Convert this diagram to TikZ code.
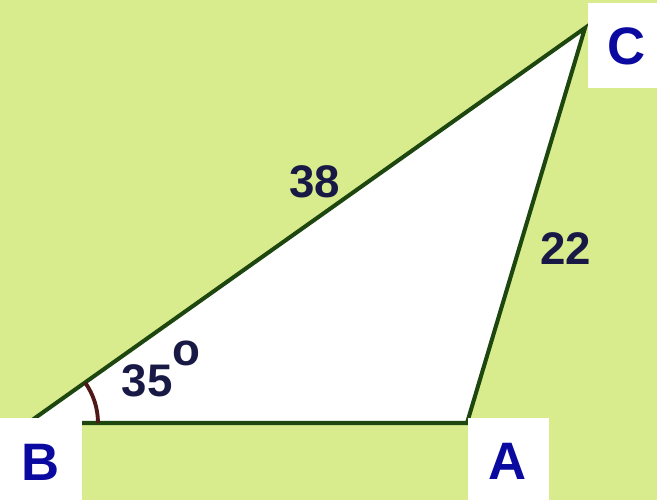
\documentclass[tikz,border=0pt]{standalone}
\usepackage{fontspec}
\setmainfont{Liberation Sans}
\usepackage{tikz}
\usetikzlibrary{angles}
\definecolor{bggreen}{RGB}{216,236,142}
\definecolor{edgegreen}{RGB}{30,70,15}
\definecolor{numnavy}{RGB}{25,25,70}
\definecolor{letterblue}{RGB}{10,10,160}
\definecolor{arcbrown}{RGB}{80,25,25}
\begin{document}
\begin{tikzpicture}[
  x=0.02cm, y=0.02cm,
  side/.style={draw=edgegreen, line width=2.3pt, fill=white, line join=miter},
  vbox/.style={fill=white, inner sep=0pt, font=\fontsize{30}{34}\selectfont\bfseries, text=letterblue},
  num/.style={inner sep=0pt, font=\fontsize{26}{30}\selectfont\bfseries, text=numnavy}
]
  % Background
  \fill[bggreen] (0, 0) rectangle (657, 500);
  \useasboundingbox (0, 0) rectangle (657, 500);

  % Vertices
  \coordinate (B) at (28, 77);
  \coordinate (A) at (467, 77);
  \coordinate (C) at (585, 472);

  % Triangle
  \draw[side] (B) -- (A) -- (C) -- cycle;

  % Angle at B
  \pic[draw=arcbrown, line width=2.2pt, angle radius=1.4cm] {angle=A--B--C};

  % Side and angle labels
  \node[num] (l38) at (315, 318) {38};
  \node[num] (l22) at (566, 251) {22};
  \node[num, anchor=base west] (l35) at (121.5, 103) {35\raisebox{18pt}{o}};

  % Vertex labels
  \node[vbox, minimum width=1.64cm, minimum height=1.64cm] (boxB) at (41, 41) {};
  \node[vbox, minimum width=1.62cm, minimum height=1.64cm] (boxA) at (508.5, 41) {};
  \node[vbox, minimum width=1.48cm, minimum height=1.7cm] (boxC) at (625, 454.5) {};
  \node[vbox, fill=none] (lB) at (41, 38) {B};
  \node[vbox, fill=none] (lA) at (508, 39) {A};
  \node[vbox, fill=none] (lC) at (627, 454) {C};

\end{tikzpicture}
\end{document}
